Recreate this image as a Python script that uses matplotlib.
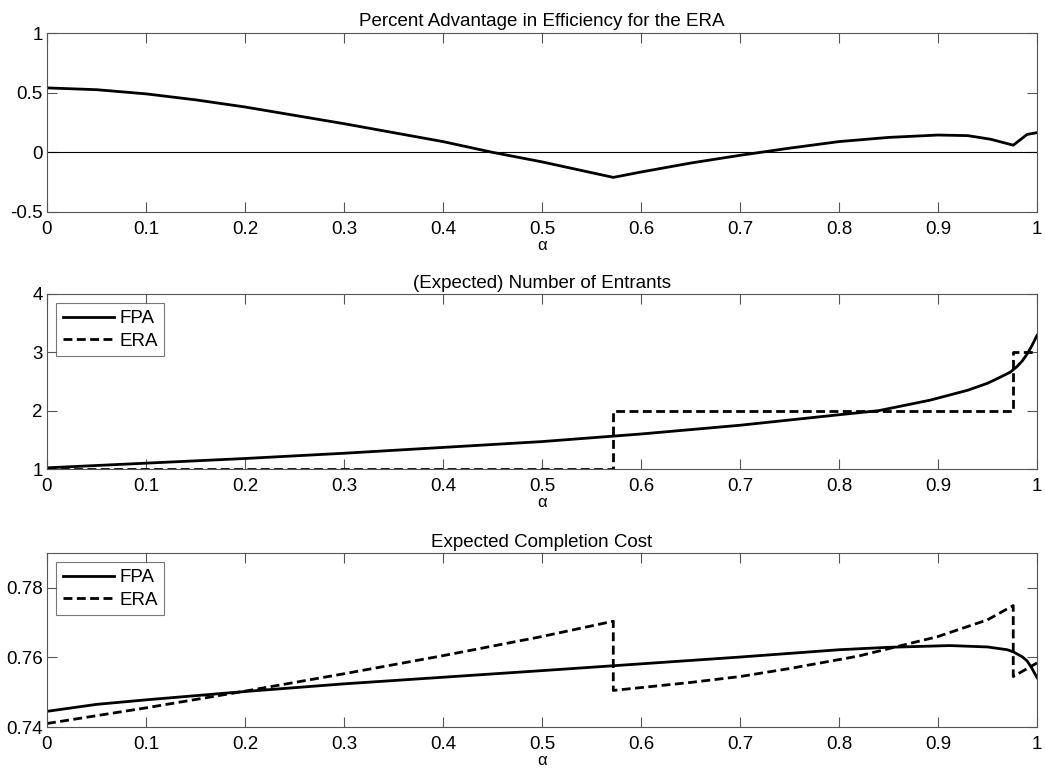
import matplotlib
matplotlib.use("Agg")
import matplotlib.pyplot as plt

plt.rcParams['font.family'] = ['Liberation Sans', 'DejaVu Sans']
FS = 13.5
plt.rcParams['font.size'] = FS

# Panel 1: percent advantage in efficiency for the ERA
adv_x = [0.0, 0.05, 0.1, 0.15, 0.2, 0.25, 0.3, 0.35, 0.4, 0.45, 0.5, 0.572,
         0.6, 0.65, 0.7, 0.75, 0.8, 0.85, 0.9, 0.93, 0.953, 0.976, 0.99, 1.0]
adv_y = [0.54, 0.525, 0.49, 0.44, 0.38, 0.31, 0.24, 0.165, 0.09, 0.0, -0.08, -0.21,
         -0.165, -0.09, -0.025, 0.035, 0.09, 0.125, 0.145, 0.14, 0.11, 0.06, 0.15, 0.165]

# Panel 2: (expected) number of entrants
ent_fpa_x = [0.0, 0.1, 0.2, 0.3, 0.4, 0.5, 0.6, 0.7, 0.8, 0.84, 0.892, 0.93, 0.95, 0.96,
             0.973, 0.98, 0.985, 0.99, 0.995, 1.0]
ent_fpa_y = [1.02, 1.1, 1.18, 1.27, 1.37, 1.47, 1.6, 1.75, 1.93, 2.0, 2.18, 2.35, 2.47, 2.55,
             2.66, 2.76, 2.85, 2.97, 3.12, 3.29]
ent_era_x = [0.0, 0.572, 0.572, 0.976, 0.976, 1.0]
ent_era_y = [1.0, 1.0, 2.0, 2.0, 3.0, 3.0]

# Panel 3: expected completion cost
cost_fpa_x = [0.0, 0.05, 0.1, 0.2, 0.3, 0.4, 0.5, 0.572, 0.7, 0.8, 0.85, 0.912, 0.95, 0.97,
              0.976, 0.985, 0.99, 0.995, 1.0]
cost_fpa_y = [0.7445, 0.7465, 0.7478, 0.7502, 0.7524, 0.7543, 0.7562, 0.7576, 0.7601, 0.7622,
              0.7629, 0.7634, 0.763, 0.7622, 0.7616, 0.7602, 0.759, 0.7568, 0.7542]
cost_era_x = [0.0, 0.1, 0.2, 0.3, 0.4, 0.5, 0.572, 0.572, 0.65, 0.7, 0.75, 0.82, 0.9, 0.95,
              0.976, 0.976, 1.0]
cost_era_y = [0.741, 0.7455, 0.7503, 0.7553, 0.7605, 0.766, 0.7704, 0.7505, 0.7528, 0.7545,
              0.7568, 0.7604, 0.766, 0.7708, 0.7749, 0.7545, 0.7584]

xticks = [0.0, 0.1, 0.2, 0.3, 0.4, 0.5, 0.6, 0.7, 0.8, 0.9, 1.0]
xticklabels = ['0', '0.1', '0.2', '0.3', '0.4', '0.5', '0.6', '0.7', '0.8', '0.9', '1']

fig = plt.figure(figsize=(10.45, 7.79), dpi=100)
W, H = 1045, 779
left = 47 / W
width = (1037 - 47) / W


def make_ax(top_px, bot_px):
    ax = fig.add_axes([left, 1 - bot_px / H, width, (bot_px - top_px) / H])
    ax.set_xlim(0, 1)
    ax.set_xticks(xticks)
    ax.set_xticklabels(xticklabels)
    ax.tick_params(direction='in', length=7, top=True, right=True, width=0.8,
                   color='#555555', labelsize=FS)
    ax.tick_params(axis='x', pad=6.5)
    ax.tick_params(axis='y', pad=3)
    for s in ax.spines.values():
        s.set_color('#555555')
        s.set_linewidth(0.8)
    ax.set_xlabel('α', labelpad=0, fontsize=12)
    return ax


def add_legend(ax):
    leg = ax.legend(loc='upper left', frameon=True, fancybox=False, edgecolor='#555555',
                    handlelength=2.7, borderpad=0.35, labelspacing=0.3, handletextpad=0.3,
                    borderaxespad=0.5, fontsize=FS)
    leg.get_frame().set_linewidth(0.8)


lw = 2.0
dash = (0, (3.2, 1.6))

ax1 = make_ax(33, 212)
ax1.plot(adv_x, adv_y, color='black', lw=lw)
ax1.axhline(0, color='black', lw=0.8)
ax1.set_ylim(-0.5, 1)
ax1.set_yticks([-0.5, 0, 0.5, 1])
ax1.set_yticklabels(['-0.5', '0', '0.5', '1'])
ax1.set_title('Percent Advantage in Efficiency for the ERA', fontsize=FS, pad=5)

ax2 = make_ax(294, 469)
ax2.plot(ent_fpa_x, ent_fpa_y, color='black', lw=lw, label='FPA')
ax2.plot(ent_era_x, ent_era_y, color='black', lw=lw, linestyle=dash, label='ERA')
ax2.set_ylim(1, 4)
ax2.set_yticks([1, 2, 3, 4])
ax2.set_yticklabels(['1', '2', '3', '4'])
ax2.set_title('(Expected) Number of Entrants', fontsize=FS, pad=4)
add_legend(ax2)

ax3 = make_ax(553, 727)
ax3.plot(cost_fpa_x, cost_fpa_y, color='black', lw=lw, label='FPA')
ax3.plot(cost_era_x, cost_era_y, color='black', lw=lw, linestyle=dash, label='ERA')
ax3.set_ylim(0.74, 0.79)
ax3.set_yticks([0.74, 0.76, 0.78])
ax3.set_yticklabels(['0.74', '0.76', '0.78'])
ax3.set_title('Expected Completion Cost', fontsize=FS, pad=4)
add_legend(ax3)

fig.savefig('out.png', dpi=100)
